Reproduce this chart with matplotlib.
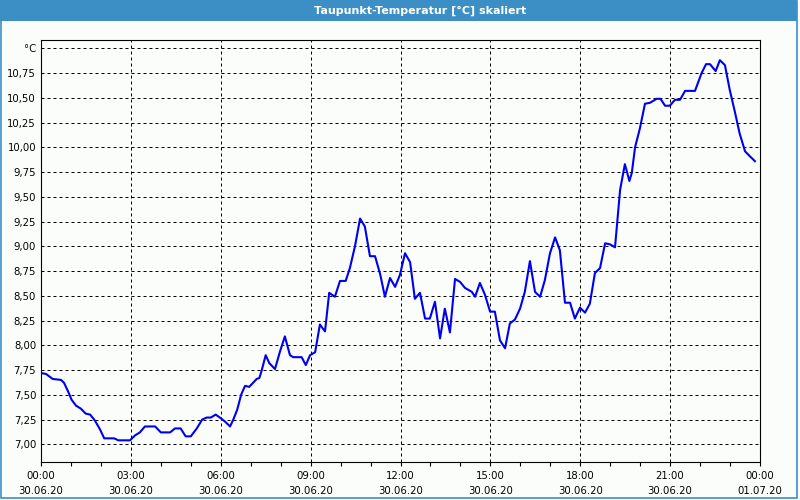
import matplotlib.pyplot as plt
import matplotlib as mpl
from matplotlib.patches import Rectangle

# Messwerte (Stunden seit 30.06.20 00:00, Taupunkt in °C)
hours = [0.00, 0.17, 0.39, 0.67, 0.77, 0.91, 1.02, 1.17, 1.33, 1.49, 1.64, 1.80,
         1.97, 2.11, 2.44, 2.58, 2.97, 3.14, 3.30, 3.47, 3.81, 4.00, 4.31, 4.47,
         4.66, 4.83, 5.00, 5.20, 5.38, 5.53, 5.67, 5.83, 5.97, 6.14, 6.31, 6.42,
         6.55, 6.68, 6.81, 6.95, 7.20, 7.29, 7.37, 7.50, 7.62, 7.81, 7.98, 8.14,
         8.31, 8.42, 8.70, 8.84, 8.98, 9.15, 9.31, 9.48, 9.62, 9.81, 9.98, 10.17,
         10.31, 10.48, 10.65, 10.81, 10.98, 11.15, 11.32, 11.48, 11.65, 11.82, 11.98, 12.15,
         12.32, 12.48, 12.65, 12.82, 12.98, 13.15, 13.32, 13.48, 13.65, 13.82, 13.99, 14.15,
         14.38, 14.49, 14.65, 14.82, 14.99, 15.15, 15.32, 15.49, 15.65, 15.82, 15.99, 16.15,
         16.32, 16.49, 16.66, 16.82, 16.99, 17.16, 17.32, 17.49, 17.66, 17.82, 17.99, 18.16,
         18.32, 18.49, 18.66, 18.83, 18.99, 19.16, 19.33, 19.49, 19.64, 19.72, 19.83, 19.99,
         20.16, 20.33, 20.55, 20.68, 20.83, 20.99, 21.16, 21.33, 21.50, 21.83, 22.05, 22.20,
         22.33, 22.52, 22.66, 22.83, 22.99, 23.16, 23.32, 23.50, 23.66, 23.83]
temps = [7.72, 7.71, 7.66, 7.65, 7.62, 7.53, 7.45, 7.39, 7.36, 7.31, 7.30, 7.24,
         7.15, 7.06, 7.06, 7.04, 7.04, 7.09, 7.12, 7.18, 7.18, 7.12, 7.12, 7.16,
         7.16, 7.08, 7.08, 7.16, 7.25, 7.27, 7.27, 7.30, 7.27, 7.23, 7.18, 7.25,
         7.35, 7.50, 7.59, 7.58, 7.66, 7.67, 7.75, 7.90, 7.82, 7.76, 7.94, 8.09,
         7.90, 7.88, 7.88, 7.80, 7.90, 7.93, 8.21, 8.14, 8.53, 8.49, 8.65, 8.65,
         8.78, 9.00, 9.28, 9.20, 8.90, 8.90, 8.72, 8.49, 8.68, 8.59, 8.71, 8.93,
         8.84, 8.47, 8.53, 8.27, 8.27, 8.44, 8.07, 8.37, 8.13, 8.67, 8.64, 8.58,
         8.54, 8.49, 8.63, 8.51, 8.34, 8.34, 8.05, 7.97, 8.22, 8.26, 8.37, 8.54,
         8.85, 8.54, 8.49, 8.66, 8.93, 9.09, 8.96, 8.43, 8.43, 8.27, 8.38, 8.33,
         8.42, 8.73, 8.78, 9.03, 9.02, 8.99, 9.57, 9.83, 9.66, 9.74, 10.00, 10.19,
         10.44, 10.45, 10.49, 10.49, 10.42, 10.42, 10.48, 10.48, 10.57, 10.57, 10.75, 10.84,
         10.84, 10.77, 10.88, 10.83, 10.58, 10.36, 10.14, 9.96, 9.91, 9.86]

x_ticks = [0, 3, 6, 9, 12, 15, 18, 21, 24]
x_labels = ['00:00\n30.06.20', '03:00\n30.06.20', '06:00\n30.06.20', '09:00\n30.06.20',
            '12:00\n30.06.20', '15:00\n30.06.20', '18:00\n30.06.20', '21:00\n30.06.20',
            '00:00\n01.07.20']
y_ticks = [7.00, 7.25, 7.50, 7.75, 8.00, 8.25, 8.50, 8.75, 9.00,
           9.25, 9.50, 9.75, 10.00, 10.25, 10.50, 10.75, 11.00]
y_labels = ['7,00', '7,25', '7,50', '7,75', '8,00', '8,25', '8,50', '8,75', '9,00',
            '9,25', '9,50', '9,75', '10,00', '10,25', '10,50', '10,75', '°C']
title = 'Taupunkt-Temperatur [°C] skaliert'

mpl.rcParams['font.family'] = ['DejaVu Sans']
bg = '#fbfdfb'
frame_blue = '#3c8fc4'

fig = plt.figure(figsize=(8, 5), dpi=100, facecolor=bg)

# Fensterrahmen und Titelleiste
fig.patches.append(Rectangle((0.5 / 800, 2.5 / 500), 796 / 800, 497 / 500,
                             transform=fig.transFigure, fill=False,
                             edgecolor=frame_blue, lw=1.2))
fig.patches.append(Rectangle((0, 1 - 20.5 / 500), 797 / 800, 20.5 / 500,
                             transform=fig.transFigure, facecolor=frame_blue,
                             edgecolor='none'))
fig.text(420 / 800, 1 - 10.5 / 500, title, color='white', fontweight='bold',
         ha='center', va='center', fontsize=8)

ax = fig.add_axes([41 / 800, 1 - 461.7 / 500, 719 / 800, 421.7 / 500])
ax.set_facecolor(bg)
ax.plot(hours, temps, color='#0000f0', lw=1.5)

ax.set_xlim(0, 24)
ax.set_ylim(6.824, 11.084)
ax.set_xticks(x_ticks)
ax.set_xticklabels(x_labels)
ax.set_xticks(range(25), minor=True)
ax.set_yticks(y_ticks)
ax.set_yticklabels(y_labels)
for lbl in ax.get_xticklabels():
    lbl.set_linespacing(1.55)

ax.tick_params(axis='y', length=0, pad=3.5, labelsize=7.3)
ax.tick_params(axis='x', which='both', length=3, width=0.8, direction='out',
               pad=4, labelsize=7.3)
ax.grid(True, which='major', color='black', lw=0.72, linestyle=(0, (3, 3)))
for s in ax.spines.values():
    s.set_color('black')
    s.set_linewidth(0.8)

fig.savefig('out.png', dpi=100, facecolor=bg)
